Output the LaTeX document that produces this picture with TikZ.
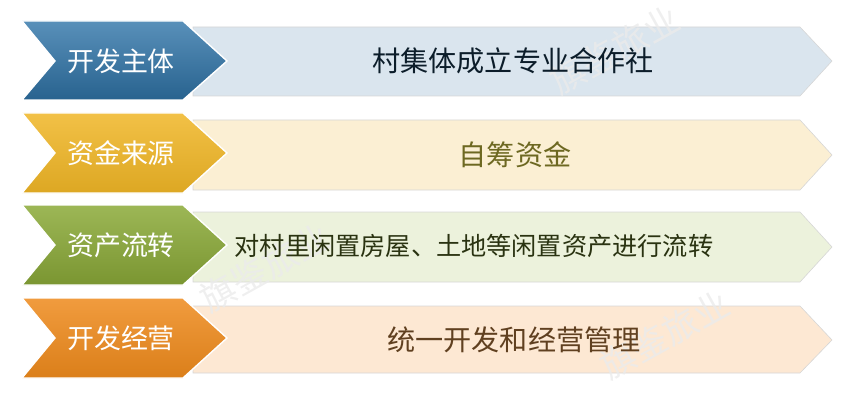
\documentclass[tikz,border=0pt]{standalone}
\usepackage{fontspec}
\usepackage{xcolor}
\usepackage{tikz}
\newfontfamily\cjk{Noto Sans CJK SC}
\definecolor{bleu}{HTML}{2F74A8}
\definecolor{bleuclair}{HTML}{DAE5EE}
\definecolor{jaune}{HTML}{F0B626}
\definecolor{jauneclair}{HTML}{FBEFD3}
\definecolor{vert}{HTML}{8BAA38}
\definecolor{vertclair}{HTML}{ECF2DC}
\definecolor{orange}{HTML}{EE8A1C}
\definecolor{orangeclair}{HTML}{FDE8D3}
\tikzstyle{chevron} = [draw=white, line width=1.2pt]
\tikzstyle{bar} = [draw=black!16, line width=0.5pt]
\tikzstyle{title} = [text=white, font=\cjk\fontsize{23}{23}\selectfont]
\tikzstyle{content} = [font=\cjk\fontsize{24}{24}\selectfont]
\tikzstyle{watermark} = [text=black!8, opacity=0.8, rotate=29, font=\cjk\fontsize{30}{30}\selectfont]

\begin{document}
\begin{tikzpicture}[x=0.03cm, y=-0.03cm]
\useasboundingbox (0,0) rectangle (853,400);

% Bandes claires (contenu)
\draw[bar, fill=bleuclair] (193,27) -- (800,27) -- (832,61) -- (800,96) -- (193,96) -- cycle;
\draw[bar, fill=jauneclair] (193,120) -- (800,120) -- (832,155) -- (800,190) -- (193,190) -- cycle;
\draw[bar, fill=vertclair] (193,212) -- (800,212) -- (832,247) -- (800,282) -- (193,282) -- cycle;
\draw[bar, fill=orangeclair] (193,306) -- (800,306) -- (832,340) -- (800,373) -- (193,373) -- cycle;

% Chevrons de gauche
\draw[chevron, top color=bleu!80!white, bottom color=bleu!85!black] (22,21) -- (183,21) -- (227,61) -- (183,100) -- (22,100) -- (55,61) -- cycle;
\draw[chevron, top color=jaune!85!white, bottom color=jaune!92!black] (22,113) -- (183,113) -- (227,153) -- (183,193) -- (22,193) -- (55,153) -- cycle;
\draw[chevron, top color=vert!85!white, bottom color=vert!88!black] (22,205) -- (183,205) -- (227,245) -- (183,285) -- (22,285) -- (55,245) -- cycle;
\draw[chevron, top color=orange!85!white, bottom color=orange!92!black] (22,298) -- (183,298) -- (227,338) -- (183,378) -- (22,378) -- (55,338) -- cycle;

% Filigranes
\node[watermark] (wm1) at (615,50) {旗鉴旅业};
\node[watermark] (wm2) at (265,268) {旗鉴旅业};
\node[watermark] (wm3) at (665,335) {旗鉴旅业};

% Titres
\node[title] (dev) at (121,61) {开发主体};
\node[title] (fonds) at (121,153) {资金来源};
\node[title] (actifs) at (121,245) {资产流转};
\node[title] (gestion) at (121,338) {开发经营};

% Textes des bandes
\node[content, text=black!75!bleu] (coop) at (513,61) {村集体成立专业合作社};
\node[content, text=black!30!olive] (auto) at (515,155) {自筹资金};
\node[content, text=black!70!vert, font=\cjk\fontsize{21.5}{21.5}\selectfont] (transfert) at (474,246) {对村里闲置房屋、土地等闲置资产进行流转};
\node[content, text=black!50!brown] (unifie) at (514,340) {统一开发和经营管理};

\end{tikzpicture}
\end{document}
